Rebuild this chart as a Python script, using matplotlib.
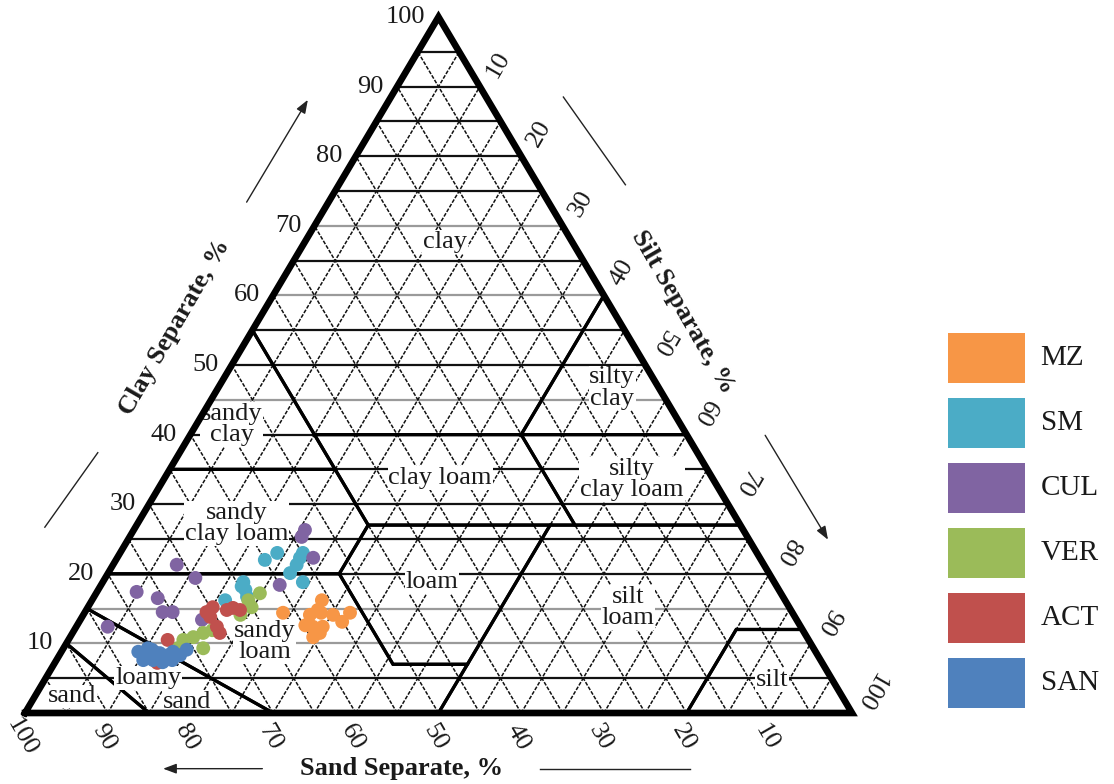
import matplotlib
matplotlib.use("Agg")
import matplotlib.pyplot as plt
import numpy as np

plt.rcParams['font.family'] = ['Liberation Serif', 'DejaVu Serif']

# ---- sample groups and colours ----
groups = ["MZ", "SM", "CUL", "VER", "ACT", "SAN"]
colors = ["#F79646", "#4BACC6", "#8064A2", "#9BBB59", "#C0504D", "#4F81BD"]

# sand / clay percentages of each sample (silt = 100 - sand - clay)
mz_sand = [56, 57, 58.6, 58.5, 59.8, 59.7, 61.6, 55.7, 55.1, 53.5, 57.8, 59.0, 57.2]
mz_clay = [16.2, 14.4, 11.5, 14.1, 12.6, 10.9, 14.4, 14.1, 13.1, 14.4, 12.4, 12.4, 14.8]

sm_sand = [60.0, 58.0, 54.9, 56.5, 57.9, 57.0, 64.2, 64.5, 67.7, 64.8, 55.6, 64.7]
sm_clay = [22.0, 23.0, 23.0, 21.3, 20.1, 18.8, 18.8, 17.7, 16.2, 16.7, 22.3, 18.2]

cul_sand = [53.0, 53.9, 54.0, 71.0, 69.7, 60.0, 77.8, 75.7, 76.1, 74.9, 83.8, 71.9]
cul_clay = [26.3, 25.3, 22.3, 21.3, 19.4, 18.4, 17.4, 16.5, 14.5, 14.5, 12.4, 13.4]

ver_sand = [63.0, 65.0, 66.9, 72.7, 74.2, 75.6, 73.8, 76.9, 71.4, 64.9]
ver_clay = [17.2, 15.2, 14.1, 11.5, 10.9, 10.5, 9.3, 9.3, 11.9, 16.2]

act_sand = [69.7, 70.7, 70.6, 70.7, 67.3, 66.6, 68.2, 77.5, 80.4, 70.8]
act_clay = [15.2, 13.8, 12.4, 11.5, 15.1, 14.8, 14.8, 10.5, 7.2, 14.5]

san_sand = [81.9, 81.3, 80.1, 79.4, 78.6, 77.7, 77.1, 75.9, 81.9, 80.7, 79.7, 78.4, 80.5]
san_clay = [8.8, 8.3, 9.1, 8.6, 8.3, 8.8, 8.3, 9.1, 7.6, 7.6, 7.3, 7.6, 9.3]

sand_values = [mz_sand, sm_sand, cul_sand, ver_sand, act_sand, san_sand]
clay_values = [mz_clay, sm_clay, cul_clay, ver_clay, act_clay, san_clay]

# USDA texture classes, vertices as (sand, silt, clay)
texture_classes = {
    "clay": [(0, 0, 100), (45, 0, 55), (45, 15, 40), (20, 40, 40), (0, 40, 60)],
    "sandy clay": [(45, 0, 55), (65, 0, 35), (45, 20, 35), (45, 15, 40)],
    "silty clay": [(0, 40, 60), (20, 40, 40), (0, 60, 40)],
    "sandy clay loam": [(65, 0, 35), (80, 0, 20), (52, 28, 20), (45, 28, 27), (45, 20, 35)],
    "clay loam": [(45, 15, 40), (45, 28, 27), (20, 53, 27), (20, 40, 40)],
    "silty clay loam": [(20, 40, 40), (20, 53, 27), (0, 73, 27), (0, 60, 40)],
    "loam": [(45, 28, 27), (52, 28, 20), (52, 41, 7), (43, 50, 7), (23, 50, 27)],
    "silt loam": [(50, 50, 0), (20, 80, 0), (8, 80, 12), (0, 88, 12), (0, 73, 27), (23, 50, 27)],
    "silt": [(20, 80, 0), (0, 100, 0), (0, 88, 12), (8, 80, 12)],
    "sandy loam": [(80, 0, 20), (85, 0, 15), (70, 30, 0), (50, 50, 0), (43, 50, 7), (52, 41, 7), (52, 28, 20)],
    "loamy sand": [(85, 0, 15), (90, 0, 10), (85, 15, 0), (70, 30, 0)],
    "sand": [(90, 0, 10), (100, 0, 0), (85, 15, 0)],
}


def to_xy(sand, clay):
    sand = np.asarray(sand, float)
    clay = np.asarray(clay, float)
    return 100.0 - sand - clay / 2.0, clay


W, H = 1114, 784
fig = plt.figure(figsize=(W / 100, H / 100), dpi=100)
ax = fig.add_axes([25 / W, (H - 713) / H, 827 / W, 696 / H])
ax.set_xlim(0, 100)
ax.set_ylim(0, 100)
ax.axis("off")

# ---- grid ----
gray_levels = {10, 15, 45, 60, 70}
for c in range(5, 100, 5):
    col = "#9a9a9a" if c in gray_levels else "#111111"
    ax.plot([c / 2, 100 - c / 2], [c, c], color=col, lw=1.6, zorder=1)
for s in range(5, 100, 5):
    # constant sand (parallel to right edge)
    ax.plot([100 - s, (100 - s) / 2], [0, 100 - s], color="#111111", lw=1.1,
            ls=(0, (2.5, 1.0)), zorder=1)
    # constant silt (parallel to left edge)
    ax.plot([s, s + (100 - s) / 2], [0, 100 - s], color="#111111", lw=1.1,
            ls=(0, (2.5, 1.0)), zorder=1)

# ---- texture class boundaries ----
for verts in texture_classes.values():
    sd = [v[0] for v in verts] + [verts[0][0]]
    cl = [v[2] for v in verts] + [verts[0][2]]
    x, y = to_xy(sd, cl)
    ax.plot(x, y, color="black", lw=2.3, solid_joinstyle="miter", zorder=2)

# outer triangle
ax.plot([0, 100, 50, 0], [0, 0, 100, 0], color="black", lw=4.8,
        solid_joinstyle="miter", solid_capstyle="projecting", zorder=5, clip_on=False)

# ---- class names ----
lab_kw = dict(fontsize=19, ha="center", va="center", color="#1a1a1a", zorder=4,
              linespacing=0.95,
              bbox=dict(facecolor="white", edgecolor="none", pad=0.5))
ax.text(50.8, 67.7, "clay", **lab_kw)
ax.text(25.0, 41.5, "sandy\nclay", **lab_kw)
ax.text(71.0, 46.7, "silty\nclay", **lab_kw)
ax.text(50.2, 33.8, "clay loam", **lab_kw)
ax.text(73.4, 33.6, "silty\nclay loam", **lab_kw)
ax.text(25.6, 27.2, "sandy\nclay loam", **lab_kw)
ax.text(49.2, 18.8, "loam", **lab_kw)
ax.text(72.9, 15.2, "silt\nloam", **lab_kw)
ax.text(29.0, 10.3, "sandy\nloam", **lab_kw)
ax.text(14.9, 5.0, "loamy", **lab_kw)
ax.text(19.6, 1.6, "sand", **lab_kw)
ax.text(5.7, 2.4, "sand", **lab_kw)
ax.text(90.3, 4.7, "silt", **lab_kw)

# ---- samples ----
for name, col, sd, cl in zip(groups, colors, sand_values, clay_values):
    x, y = to_xy(sd, cl)
    ax.scatter(x, y, s=100, color=col, edgecolors="none", zorder=6, label=name)

# ---- tick labels ----
tick_vals = list(range(10, 101, 10))
tk = dict(fontsize=19, color="#1a1a1a", clip_on=False)
for c in tick_vals:
    ax.text(c / 2 - 1.6, c, str(c), ha="right", va="center", **tk)
for t in tick_vals:
    rot = 60 if t < 50 else -120
    ax.text(50 + t / 2 + 2.2, 100 - t + 3.2, str(t), ha="center", va="center",
            rotation=rot, **tk)
for s in tick_vals:
    ax.text(100 - s - 0.4, -3.5, str(s), ha="center", va="center", rotation=-60, **tk)

# ---- axis titles and arrows ----
tt = dict(fontsize=19, fontweight="bold", color="#1a1a1a", ha="center", va="center",
          clip_on=False)
ax.text(18.1, 55.5, "Clay Separate, %", rotation=60, **tt)
ax.text(79.6, 57.6, "Silt Separate, %", rotation=-60, **tt)
ax.text(45.5, -8.0, "Sand Separate, %", **tt)

arr = dict(arrowstyle="-|>,head_length=0.8,head_width=0.3", color="#222222", lw=1.0,
           shrinkA=0, shrinkB=0)
ax.annotate("", xy=(34.2, 88.1), xytext=(26.8, 73.4), arrowprops=arr, annotation_clip=False)
ax.annotate("", xy=(97.1, 24.9), xytext=(89.5, 39.9), arrowprops=arr, annotation_clip=False)
ax.annotate("", xy=(16.7, -8.0), xytext=(28.7, -8.0), arrowprops=arr, annotation_clip=False)
ax.plot([2.4, 8.8], [26.7, 37.4], color="#222222", lw=1.0, clip_on=False)
ax.plot([65.1, 72.6], [88.5, 75.9], color="#222222", lw=1.0, clip_on=False)
ax.plot([62.3, 80.4], [-8.0, -8.0], color="#222222", lw=1.0, clip_on=False)

# ---- legend ----
lax = fig.add_axes([948 / W, (H - 715.5) / H, 162 / W, 390 / H])
lax.set_xlim(0, 2.1)
lax.set_ylim(len(groups) - 0.5, -0.5)
lax.axis("off")
rows = np.arange(len(groups))
lax.barh(rows, 1.0, height=0.77, left=0, color=colors, edgecolor="none")
for r, name in zip(rows, groups):
    lax.text(1.2, r, name, ha="left", va="center", fontsize=21, color="#1a1a1a")

fig.savefig("out.png", dpi=100, facecolor="white")
